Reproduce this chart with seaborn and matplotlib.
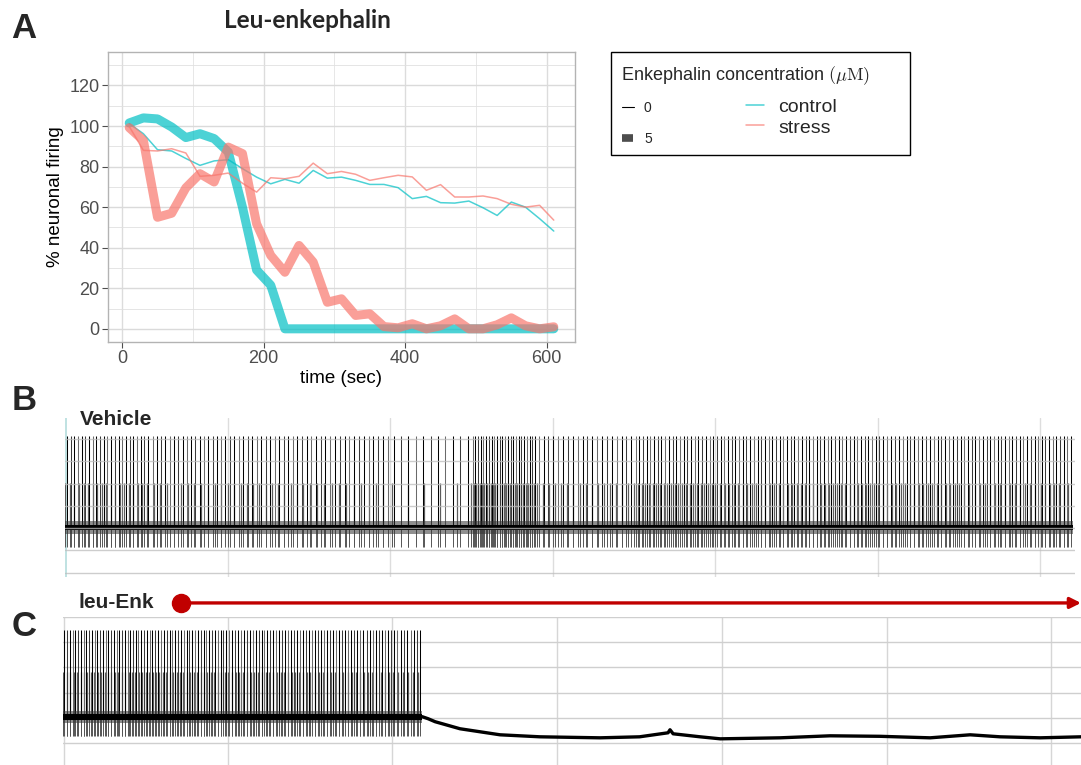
import numpy as np
import pandas as pd
import matplotlib
matplotlib.use("Agg")
import matplotlib.pyplot as plt
import seaborn as sns
from matplotlib.patches import Rectangle
from matplotlib.lines import Line2D

sns.set_theme(style="white")
plt.rcParams["font.family"] = ["Liberation Sans", "DejaVu Sans"]
plt.rcParams["mathtext.fontset"] = "cm"

# ---------------- Panel A: firing over time ----------------
time_sec = list(range(10, 611, 20))
control_0 = [101.2, 96.2, 88.3, 87.7, 84.0, 80.6, 82.8, 83.4, 79.0, 74.8, 71.5,
             73.7, 71.8, 78.1, 74.3, 74.8, 73.2, 71.2, 71.2, 69.6, 64.2, 65.3,
             62.2, 62.0, 63.0, 59.7, 55.9, 62.5, 60.0, 54.3, 48.2]
stress_0 = [99.8, 88.0, 87.7, 88.8, 86.7, 75.2, 75.7, 76.8, 71.8, 67.4, 74.5,
            74.0, 75.2, 81.7, 76.5, 77.6, 76.2, 73.2, 74.5, 75.7, 74.9, 68.3,
            71.1, 65.0, 65.0, 65.5, 64.2, 61.4, 60.0, 60.9, 53.6]
control_5 = [101.5, 104.0, 103.5, 99.5, 94.3, 96.2, 93.8, 87.2, 60.0, 29.0, 21.5,
             0, 0, 0, 0, 0, 0, 0, 0, 0, 0, 0, 0, 0, 0, 0, 0, 0, 0, 0, 0]
stress_5 = [99.2, 92.9, 55.0, 57.0, 69.5, 76.5, 72.4, 89.6, 86.4, 51.8, 36.2,
            27.9, 41.1, 32.9, 13.1, 14.8, 6.6, 7.4, 1.1, 0.5, 2.5, 0.0, 1.5,
            4.9, 0.0, 0.0, 2.0, 5.4, 1.5, 0.0, 1.0]
groups = ["control", "stress"]
concentrations = [0, 5]
group_colors = {"control": "#00BFC4", "stress": "#F8766D"}

# ---------------- Panel B: vehicle recording ----------------
veh_bin_edges = [0, 50, 100, 150, 200, 250, 290, 350, 400, 450, 500, 550, 600, 620]
veh_tall_counts = [22, 19, 18, 17, 11, 24, 20, 22, 22, 22, 21, 22, 9]
veh_mid_counts = [18, 12, 13, 11, 5, 30, 16, 22, 18, 20, 18, 16, 7]
veh_levels = {"tall": 22.9, "mid": -19.5, "rest": -59.5, "core": 2.6, "fuzz": 5.5, "trough": -77.0}

# ---------------- Panel C: leu-Enk recording ----------------
enk_bin_edges = [0, 50, 100, 150, 200, 218]
enk_tall_counts = [30, 29, 28, 27, 9]
enk_mid_counts = [24, 24, 22, 20, 6]
enk_levels = {"tall": 9.8, "mid": -24.0, "rest": -59.6, "core": 2.6, "fuzz": 5.0, "trough": -74.4}
enk_after_t = [218, 221.6, 225.9, 241, 265.3, 289.6, 326, 350, 367.3, 368.5, 370.4,
               386.8, 399, 435.3, 465.7, 496, 526.4, 550.7, 568.9, 593.2, 618]
enk_after_mv = [-59.2, -60.8, -63.2, -68.8, -73.6, -75.2, -76.0, -75.2, -72.0, -69.6,
                -72.8, -75.2, -76.8, -76.0, -74.4, -74.8, -76.0, -73.6, -75.2, -76.0, -75.2]
enk_start_t = 71.6
enk_end_t = 616

W, H = 1081, 765
fig = plt.figure(figsize=(W / 100, H / 100), dpi=100)


def fx(px):
    return px / W


def fy(py):
    return 1 - py / H


# ---- Panel A ----
rows = []
for g, c, vals in [("control", 0, control_0), ("stress", 0, stress_0),
                   ("control", 5, control_5), ("stress", 5, stress_5)]:
    for t, v in zip(time_sec, vals):
        rows.append({"time": t, "firing": v, "group": g, "conc": c})
df = pd.DataFrame(rows)

axA = fig.add_axes([fx(108), fy(342), fx(575) - fx(108), fy(52) - fy(342)])
axA.set_facecolor("white")
for x in range(0, 601, 100):
    axA.axvline(x, color="#e3e3e3" if x % 200 else "#dcdcdc", lw=1.0 if x % 200 == 0 else 0.6, zorder=0)
for y in range(0, 131, 10):
    axA.axhline(y, color="#e0e0e0" if y % 20 else "#dadada", lw=1.0 if y % 20 == 0 else 0.6, zorder=0)
sns.lineplot(data=df, x="time", y="firing", hue="group", size="conc",
             sizes={0: 1.1, 5: 6.5}, palette=group_colors, hue_order=groups,
             alpha=0.7, legend=False, ax=axA, sort=False)
axA.set_xlim(-20, 640)
axA.set_ylim(-6.5, 136.5)
axA.set_xticks([0, 200, 400, 600])
axA.set_yticks([0, 20, 40, 60, 80, 100, 120])
axA.tick_params(axis="both", labelsize=13, colors="#4d4d4d", length=4, width=0.8,
                direction="out", bottom=True, left=True, pad=2)
for lab in axA.get_xticklabels() + axA.get_yticklabels():
    lab.set_color("#4d4d4d")
axA.set_xlabel("time (sec)", fontsize=13.5, color="black", labelpad=2)
axA.set_ylabel("% neuronal firing", fontsize=13.5, color="black", labelpad=4)
for s in axA.spines.values():
    s.set_color("#b3b3b3")
    s.set_linewidth(1.0)

fig.text(fx(307), fy(21), "Leu-enkephalin", fontsize=17.5, fontweight="bold",
         family=["Lato", "DejaVu Sans"], ha="center", va="center")
fig.text(fx(24), fy(29), "A", fontsize=25, fontweight="bold", ha="center", va="center")

# Legend for panel A
leg = fig.add_axes([0, 0, 1, 1], zorder=5)
leg.set_xlim(0, W)
leg.set_ylim(H, 0)
leg.axis("off")
leg.patch.set_alpha(0)
leg.add_patch(Rectangle((611, 52), 299, 103, facecolor="white", edgecolor="black", lw=1.0))
leg.text(621, 76, r"Enkephalin concentration $(\mu\mathrm{M})$", fontsize=13, va="center", ha="left")
leg.add_line(Line2D([622, 634], [107, 107], color="black", lw=0.8))
leg.text(644, 108, "0", fontsize=10, va="center", ha="left")
leg.add_line(Line2D([622, 633], [138, 138], color="#4d4d4d", lw=5.5, solid_capstyle="butt"))
leg.text(644, 139, "5", fontsize=10, va="center", ha="left")
leg.add_line(Line2D([746, 764], [105, 105], color=group_colors["control"], lw=1.1, alpha=0.7))
leg.text(778, 107, "control", fontsize=14, va="center", ha="left")
leg.add_line(Line2D([746, 764], [125, 125], color=group_colors["stress"], lw=1.1, alpha=0.7))
leg.text(778, 128, "stress", fontsize=14, va="center", ha="left")


def spike_times(edges, counts, offset):
    out = []
    for a, b, n in zip(edges[:-1], edges[1:], counts):
        step = (b - a) / n
        out.extend(a + (np.arange(n) + offset) * step)
    return np.array(out)


def draw_trace(ax, edges, tall, mid, lv, t_end):
    t_tall = spike_times(edges, tall, 0.5)
    t_mid = spike_times(edges, mid, 0.1)
    rest = lv["rest"]
    ax.vlines(np.concatenate([t_tall, t_mid]), lv["trough"], rest, color="#555555", lw=0.7, zorder=2)
    ax.vlines(t_mid, rest, lv["mid"], color="#5c5c5c", lw=0.9, zorder=2)
    shade = ["black", "#3a3a3a", "black", "#6a6a6a"]
    ax.vlines(t_tall, rest, lv["tall"], colors=[shade[i % 4] for i in range(len(t_tall))],
              lw=0.75, zorder=3)
    ax.fill_between([0, t_end], [rest - lv["fuzz"]] * 2, [rest + lv["fuzz"]] * 2,
                    color="#333333", alpha=0.55, lw=0, zorder=4)
    ax.fill_between([0, t_end], [rest - lv["core"]] * 2, [rest + lv["core"]] * 2,
                    color="black", lw=0, zorder=4)


# ---- Panel B ----
axB = fig.add_axes([fx(65), fy(577), fx(1075) - fx(65), fy(418) - fy(577)])
axB.set_xlim(0, 621.5)
axB.set_ylim(-104, 39)
axB.axis("off")
for x in range(100, 601, 100):
    axB.axvline(x, color="#dddddd", lw=1.0, zorder=0)
axB.axvline(0.4, color="#bfe2e2", lw=1.4, zorder=0)
for y in range(-100, 21, 20):
    axB.axhline(y, color="#bdbdbd", lw=1.0, alpha=0.75, zorder=5)
draw_trace(axB, veh_bin_edges, veh_tall_counts, veh_mid_counts, veh_levels, veh_bin_edges[-1])

fig.text(fx(24), fy(400), "B", fontsize=25, fontweight="bold", ha="center", va="center")
fig.text(fx(80), fy(419), "Vehicle", fontsize=15, fontweight="bold", ha="left", va="center")

# ---- Panel C ----
axC = fig.add_axes([fx(63), 0, fx(1081) - fx(63), fy(617)])
axC.set_xlim(0, 618)
axC.set_ylim(-97.6, 20)
axC.axis("off")
for x in range(0, 601, 100):
    axC.axvline(x + (0.4 if x == 0 else 0), color="#d6d6d6", lw=1.0, zorder=0)
for y in range(-80, 21, 20):
    axC.axhline(y, color="#cfcfcf", lw=1.0, zorder=0)
draw_trace(axC, enk_bin_edges, enk_tall_counts, enk_mid_counts, enk_levels, enk_bin_edges[-1])
sns.lineplot(x=enk_after_t, y=enk_after_mv, color="black", lw=2.4, ax=axC, sort=False, zorder=4)
axC.set_xlabel("")
axC.set_ylabel("")

# drug application bar
axC.annotate("", xy=(enk_end_t + 2, 1.095), xytext=(enk_start_t, 1.095),
             xycoords=("data", "axes fraction"), textcoords=("data", "axes fraction"),
             arrowprops=dict(arrowstyle="-|>", color="#c00000", lw=2.4,
                             mutation_scale=16, shrinkA=0, shrinkB=0),
             annotation_clip=False)
axC.plot([enk_start_t], [1.095], marker="o", markersize=13, color="#c00000",
         transform=axC.get_xaxis_transform(), clip_on=False, zorder=6)

fig.text(fx(24), fy(626), "C", fontsize=25, fontweight="bold", ha="center", va="center")
fig.text(fx(79), fy(602), "leu-Enk", fontsize=15, fontweight="bold", ha="left", va="center")

fig.savefig("out.png", dpi=100)
